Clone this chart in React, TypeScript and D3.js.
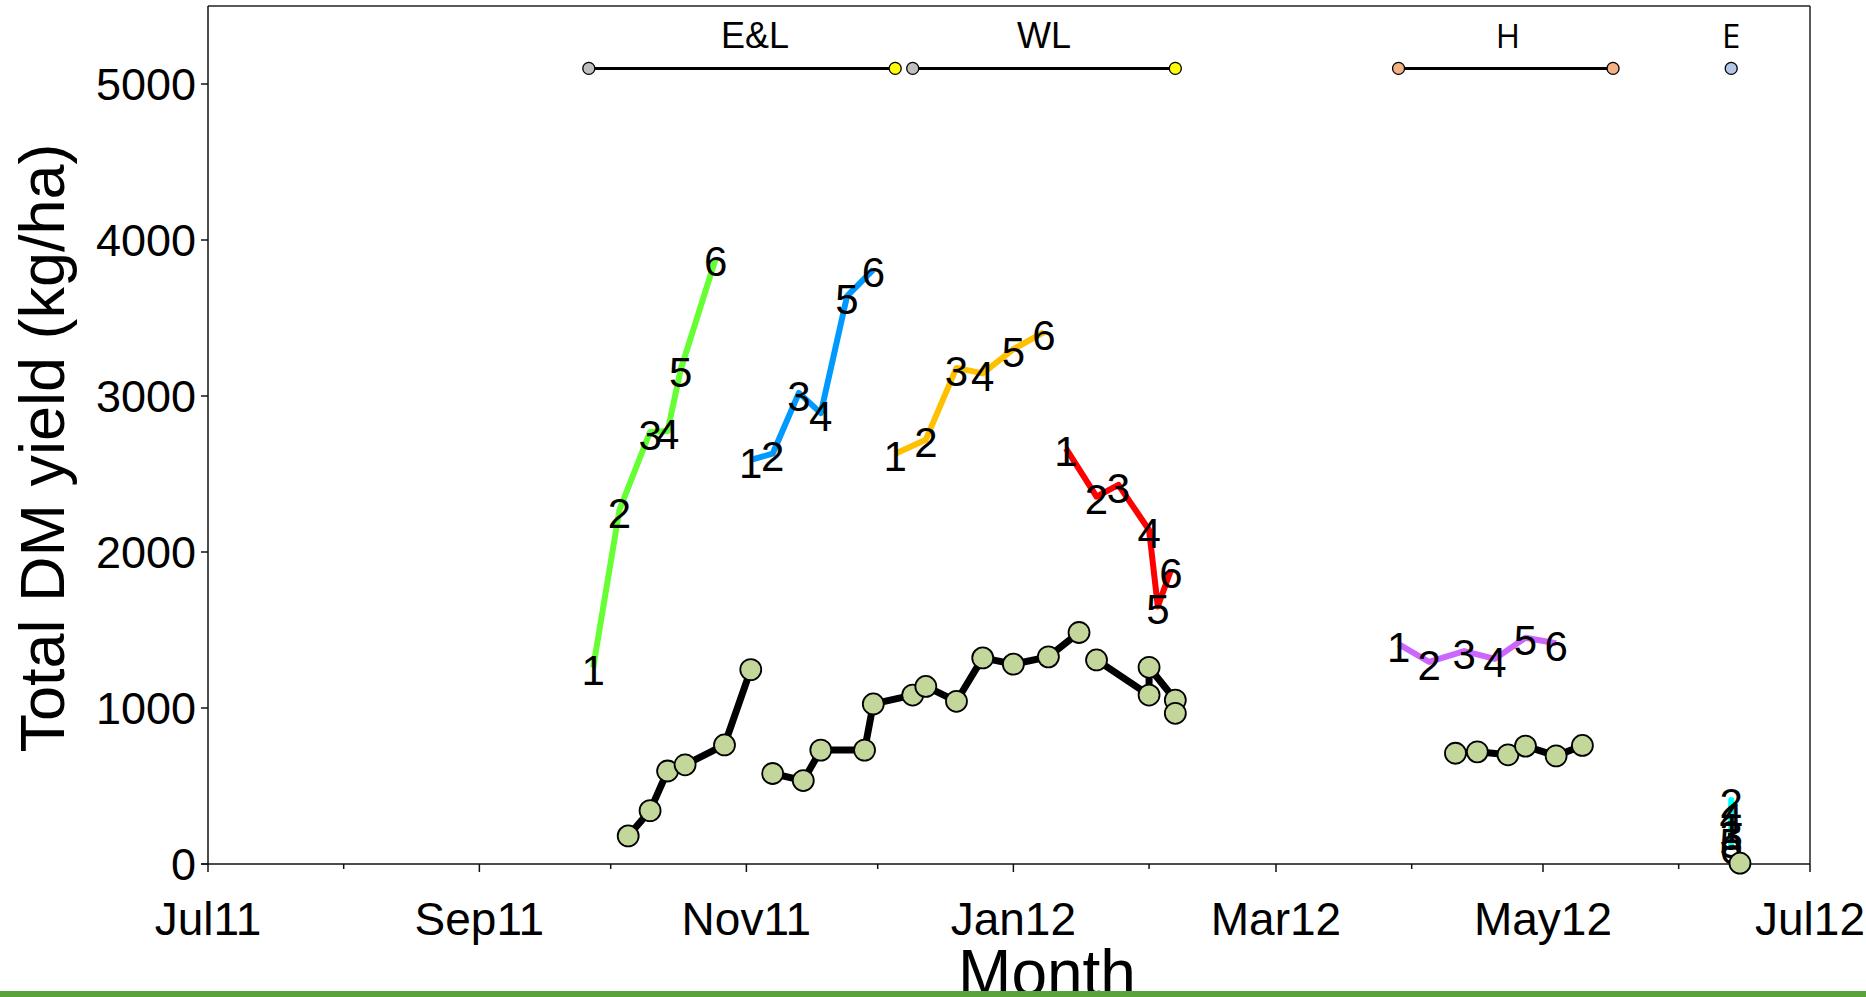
import React from "react";
import * as d3 from "d3";

// ---------- data ----------
const parse = d3.timeParse("%Y-%m-%d");

type P = { date: string; value: number };

// labelled series (labels 1..6)
const greenSeries: P[] = [
  { date: "2011-09-27", value: 1260 },
  { date: "2011-10-03", value: 2270 },
  { date: "2011-10-10", value: 2770 },
  { date: "2011-10-14", value: 2775 },
  { date: "2011-10-17", value: 3170 },
  { date: "2011-10-25", value: 3880 },
];
const blueSeries: P[] = [
  { date: "2011-11-02", value: 2590 },
  { date: "2011-11-07", value: 2630 },
  { date: "2011-11-13", value: 3020 },
  { date: "2011-11-18", value: 2890 },
  { date: "2011-11-24", value: 3640 },
  { date: "2011-11-30", value: 3810 },
];
const orangeSeries: P[] = [
  { date: "2011-12-05", value: 2630 },
  { date: "2011-12-12", value: 2720 },
  { date: "2011-12-19", value: 3180 },
  { date: "2011-12-25", value: 3145 },
  { date: "2012-01-01", value: 3300 },
  { date: "2012-01-08", value: 3410 },
];
const redSeries: P[] = [
  { date: "2012-01-13", value: 2664 },
  { date: "2012-01-20", value: 2355 },
  { date: "2012-01-25", value: 2430 },
  { date: "2012-02-01", value: 2141 },
  { date: "2012-02-03", value: 1650 },
  { date: "2012-02-06", value: 1885 },
];
const purpleSeries: P[] = [
  { date: "2012-03-29", value: 1410 },
  { date: "2012-04-05", value: 1295 },
  { date: "2012-04-13", value: 1365 },
  { date: "2012-04-20", value: 1315 },
  { date: "2012-04-27", value: 1450 },
  { date: "2012-05-04", value: 1415 },
];
const cyanSeries: P[] = [
  { date: "2012-06-13", value: 250 },
  { date: "2012-06-13", value: 410 },
  { date: "2012-06-13", value: 200 },
  { date: "2012-06-13", value: 310 },
  { date: "2012-06-13", value: 150 },
  { date: "2012-06-13", value: 110 },
];
const pointLabels = ["1", "2", "3", "4", "5", "6"];

// measured total (black line, green circles), in separate segments
const totalSegA: P[] = [
  { date: "2011-10-05", value: 180 },
  { date: "2011-10-10", value: 342 },
  { date: "2011-10-14", value: 596 },
  { date: "2011-10-18", value: 636 },
  { date: "2011-10-27", value: 763 },
  { date: "2011-11-02", value: 1246 },
];
const totalSegB: P[] = [
  { date: "2011-11-07", value: 580 },
  { date: "2011-11-14", value: 535 },
  { date: "2011-11-18", value: 730 },
  { date: "2011-11-28", value: 730 },
  { date: "2011-11-30", value: 1026 },
  { date: "2011-12-09", value: 1083 },
  { date: "2011-12-12", value: 1138 },
  { date: "2011-12-19", value: 1043 },
  { date: "2011-12-25", value: 1321 },
  { date: "2012-01-01", value: 1281 },
  { date: "2012-01-09", value: 1328 },
  { date: "2012-01-16", value: 1484 },
];
const totalSegC: P[] = [
  { date: "2012-01-20", value: 1308 },
  { date: "2012-02-01", value: 1083 },
  { date: "2012-02-01", value: 1261 },
  { date: "2012-02-07", value: 1051 },
  { date: "2012-02-07", value: 966 },
];
const totalSegD: P[] = [
  { date: "2012-04-11", value: 710 },
  { date: "2012-04-16", value: 719 },
  { date: "2012-04-23", value: 700 },
  { date: "2012-04-27", value: 756 },
  { date: "2012-05-04", value: 693 },
  { date: "2012-05-10", value: 760 },
];
const totalSegE: P[] = [{ date: "2012-06-15", value: 5 }];

// period bars at top
const periodNames = ["E&L", "WL", "H", "E"];
const periodStarts = ["2011-09-26", "2011-12-09", "2012-03-29", "2012-06-13"];
const periodEnds = ["2011-12-05", "2012-02-07", "2012-05-17", "2012-06-13"];
const periodLabelDates = ["2011-11-03", "2012-01-08", "2012-04-23", "2012-06-13"];
const periodStartColors = ["#bfbfbf", "#bfbfbf", "#f4b183", "#b4c7e7"];
const periodEndColors = ["#ffff00", "#ffff00", "#f4b183", "#b4c7e7"];
const periodLevel = 5100;

const yTicks = [0, 1000, 2000, 3000, 4000, 5000];
const xDomain = ["2011-07-01", "2012-07-01"];

// ---------- chart ----------
const W = 1866;
const H = 997;
const M = { left: 208, right: 1810, top: 6, bottom: 864 };

const FONT = "'Liberation Sans', Arial, Helvetica, sans-serif";

export default function App() {
  const x = d3
    .scaleTime()
    .domain(xDomain.map((d) => parse(d) as Date))
    .range([M.left, M.right]);
  const y = d3.scaleLinear().domain([0, 5500]).range([M.bottom, M.top]);

  const line = d3
    .line<P>()
    .x((d) => x(parse(d.date) as Date))
    .y((d) => y(d.value));

  const months = d3.timeMonth.range(
    parse(xDomain[0]) as Date,
    d3.timeDay.offset(parse(xDomain[1]) as Date, 1)
  );
  const fmt = d3.timeFormat("%b%y");

  const colored = [
    { data: greenSeries, color: "#66ff33" },
    { data: blueSeries, color: "#0099ff" },
    { data: orangeSeries, color: "#ffc000" },
    { data: redSeries, color: "#ff0000" },
    { data: purpleSeries, color: "#cc66ff" },
    { data: cyanSeries, color: "#00ffff" },
  ];
  const totals = [totalSegA, totalSegB, totalSegC, totalSegD, totalSegE];

  return (
    <svg
      width={W}
      height={H}
      style={{ position: "fixed", left: 0, top: 0, background: "#fff" }}
      fontFamily={FONT}
    >
      <rect x={0} y={0} width={W} height={H} fill="#fff" />

      {/* frame */}
      <line x1={M.left} x2={M.right} y1={M.top} y2={M.top} stroke="#222" strokeWidth={1.5} />
      <line x1={M.right} x2={M.right} y1={M.top} y2={M.bottom} stroke="#222" strokeWidth={1.5} />
      <line x1={M.left} x2={M.left} y1={M.top} y2={M.bottom} stroke="#111" strokeWidth={1.5} />
      <line x1={M.left - 7} x2={M.right} y1={M.bottom} y2={M.bottom} stroke="#111" strokeWidth={1.5} />

      {/* y ticks */}
      {yTicks.map((t) => (
        <g key={t}>
          <line x1={M.left - 7} x2={M.left} y1={y(t)} y2={y(t)} stroke="#111" strokeWidth={1.5} />
          <text
            x={M.left - 12}
            y={y(t)}
            dy="0.36em"
            textAnchor="end"
            fontSize={45}
            fill="#000"
          >
            {t}
          </text>
        </g>
      ))}

      {/* x ticks */}
      {months.map((m, i) => {
        const major = m.getMonth() % 2 === 0;
        return (
          <g key={i}>
            <line
              x1={x(m)}
              x2={x(m)}
              y1={M.bottom}
              y2={M.bottom + (major ? 8 : 5)}
              stroke="#111"
              strokeWidth={1.5}
            />
            {major && (
              <text x={x(m)} y={935} textAnchor="middle" fontSize={46} fill="#000">
                {fmt(m)}
              </text>
            )}
          </g>
        );
      })}

      {/* axis titles */}
      <text
        transform={`translate(64,448) rotate(-90)`}
        textAnchor="middle"
        fontSize={63}
        fill="#000"
      >
        Total DM yield (kg/ha)
      </text>
      <text x={1047} y={995} textAnchor="middle" fontSize={64} fill="#000">
        Month
      </text>

      {/* period bars */}
      {periodNames.map((n, i) => {
        const x1 = x(parse(periodStarts[i]) as Date);
        const x2 = x(parse(periodEnds[i]) as Date);
        const yy = y(periodLevel);
        const sans = i >= 2 ? "'Open Sans', 'Noto Sans', sans-serif" : FONT;
        return (
          <g key={n}>
            {x2 > x1 && <line x1={x1} x2={x2} y1={yy} y2={yy} stroke="#000" strokeWidth={3} />}
            <circle cx={x1} cy={yy} r={6} fill={periodStartColors[i]} stroke="#000" strokeWidth={1.3} />
            {x2 > x1 && (
              <circle cx={x2} cy={yy} r={6} fill={periodEndColors[i]} stroke="#000" strokeWidth={1.3} />
            )}
            <text
              x={x(parse(periodLabelDates[i]) as Date)}
              y={yy - 20}
              textAnchor="middle"
              fontSize={i >= 2 ? 33 : 36}
              fontFamily={sans}
              fill="#000"
            >
              {n}
            </text>
          </g>
        );
      })}

      {/* coloured labelled series */}
      {colored.map((s, i) => (
        <path
          key={"l" + i}
          d={line(s.data) || ""}
          fill="none"
          stroke={s.color}
          strokeWidth={6}
          strokeLinejoin="round"
        />
      ))}
      {colored.map((s, i) =>
        s.data.map((d, j) => (
          <text
            key={"t" + i + "-" + j}
            x={x(parse(d.date) as Date)}
            y={y(d.value)}
            dy="0.42em"
            textAnchor="middle"
            fontSize={42}
            fill="#000"
          >
            {pointLabels[j]}
          </text>
        ))
      )}

      {/* total yield series */}
      {totals.map((seg, i) => (
        <path
          key={"tl" + i}
          d={line(seg) || ""}
          fill="none"
          stroke="#000"
          strokeWidth={7}
          strokeLinejoin="round"
        />
      ))}
      {totals.map((seg, i) =>
        seg.map((d, j) => (
          <circle
            key={"c" + i + "-" + j}
            cx={x(parse(d.date) as Date)}
            cy={y(d.value)}
            r={10.5}
            fill="#c4d79b"
            stroke="#000"
            strokeWidth={1.8}
          />
        ))
      )}

      {/* bottom green rule */}
      <rect x={0} y={991} width={W} height={6} fill="#5aa33a" />
    </svg>
  );
}
